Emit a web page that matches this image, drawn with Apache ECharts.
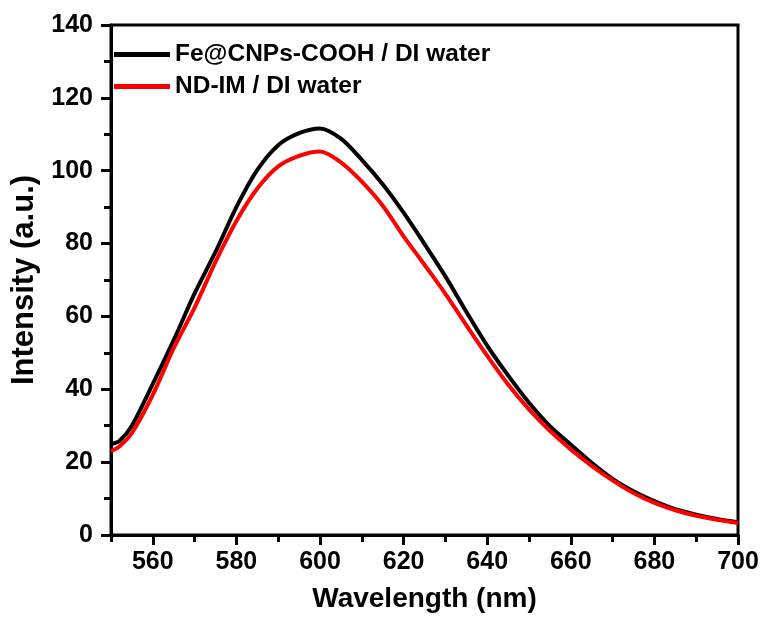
<!DOCTYPE html>
<html>

<head>
  <meta charset="UTF-8">
  <title>Intensity vs Wavelength</title>
  <script type="text/javascript" src="https://cdn.jsdelivr.net/npm/echarts@6/dist/echarts.min.js"></script>
  <style>
    html, body { margin: 0; padding: 0; background: #fff; }
  </style>
</head>

<body>
  <div id="main" style="width:766px;height:618px;"></div>

  <script>
    // wavelength (nm)
    var wavelength = [550, 552, 555, 560, 565, 570, 575, 580, 585, 590, 595, 600, 605, 610, 615, 620,
      625, 630, 635, 640, 645, 650, 655, 660, 665, 670, 675, 680, 685, 690, 695, 700];
    // Fe@CNPs-COOH / DI water
    var feCnps = [25.0, 25.8, 30.0, 41.5, 53.5, 66.3, 77.7, 90.0, 100.2, 107.0, 110.3, 111.6, 108.8, 103.0, 96.3, 88.5,
      79.9, 71.0, 61.3, 52.0, 43.8, 36.3, 29.9, 24.8, 19.8, 15.4, 12.0, 9.3, 7.1, 5.6, 4.4, 3.5];
    // ND-IM / DI water
    var ndIm = [23.0, 24.3, 28.0, 38.5, 51.3, 62.4, 75.0, 86.2, 95.1, 101.2, 104.1, 105.3, 102.3, 97.0, 90.4, 82.0,
      74.2, 66.2, 57.6, 49.2, 41.3, 34.5, 28.6, 23.5, 19.0, 15.0, 11.5, 8.8, 6.8, 5.3, 4.2, 3.3];

    var xMajor = [560, 580, 600, 620, 640, 660, 680, 700];
    var xMinor = [550, 570, 590, 610, 630, 650, 670, 690];

    function pairs(ys) {
      return wavelength.map(function (x, i) { return [x, ys[i]]; });
    }

    var font = 'Liberation Sans, Arial, sans-serif';
    var myChart = echarts.init(document.getElementById('main'));
    var option = {
      animation: false,
      grid: {
        left: 111, right: 28, top: 25, bottom: 82,
        show: true, borderColor: '#000', borderWidth: 3, backgroundColor: 'transparent'
      },
      legend: {
        orient: 'vertical',
        left: 109, top: 37,
        itemWidth: 56, itemHeight: 5, itemGap: 7,
        icon: 'rect',
        textStyle: { fontFamily: font, fontSize: 24.5, fontWeight: 'bold', color: '#000' },
        data: ['Fe@CNPs-COOH / DI water', 'ND-IM / DI water']
      },
      xAxis: [{
        type: 'value', min: 550, max: 700,
        name: 'Wavelength (nm)', nameLocation: 'middle', nameGap: 50,
        nameTextStyle: { fontFamily: font, fontSize: 28, fontWeight: 'bold', color: '#000' },
        axisLine: { lineStyle: { color: '#000', width: 3 } },
        axisTick: { customValues: xMajor, length: 10, lineStyle: { width: 3, color: '#000' } },
        axisLabel: { customValues: xMajor, margin: 15, fontFamily: font, fontSize: 25, fontWeight: 'bold', color: '#000' },
        splitLine: { show: false }
      }, {
        type: 'value', min: 550, max: 700, position: 'bottom',
        axisLine: { show: false },
        axisTick: { customValues: xMinor, length: 7, lineStyle: { width: 3, color: '#000' } },
        axisLabel: { show: false },
        splitLine: { show: false }
      }],
      yAxis: {
        type: 'value', min: 0, max: 140, interval: 20,
        name: 'Intensity (a.u.)', nameLocation: 'middle', nameGap: 64,
        nameTextStyle: { fontFamily: font, fontSize: 31, fontWeight: 'bold', color: '#000' },
        axisLine: { lineStyle: { color: '#000', width: 3 } },
        axisTick: { length: 10, lineStyle: { width: 3, color: '#000' } },
        minorTick: { show: true, splitNumber: 2, length: 7, lineStyle: { width: 3, color: '#000' } },
        axisLabel: { margin: 18, fontFamily: font, fontSize: 25, fontWeight: 'bold', color: '#000' },
        splitLine: { show: false }
      },
      series: [{
        name: 'Fe@CNPs-COOH / DI water',
        type: 'line',
        data: pairs(feCnps),
        smooth: 0.3,
        showSymbol: false,
        itemStyle: { color: '#000' },
        lineStyle: { color: '#000', width: 4 }
      }, {
        name: 'ND-IM / DI water',
        type: 'line',
        data: pairs(ndIm),
        smooth: 0.3,
        showSymbol: false,
        itemStyle: { color: '#ff0000' },
        lineStyle: { color: '#ff0000', width: 4 }
      }]
    };
    myChart.setOption(option);
  </script>
</body>

</html>
